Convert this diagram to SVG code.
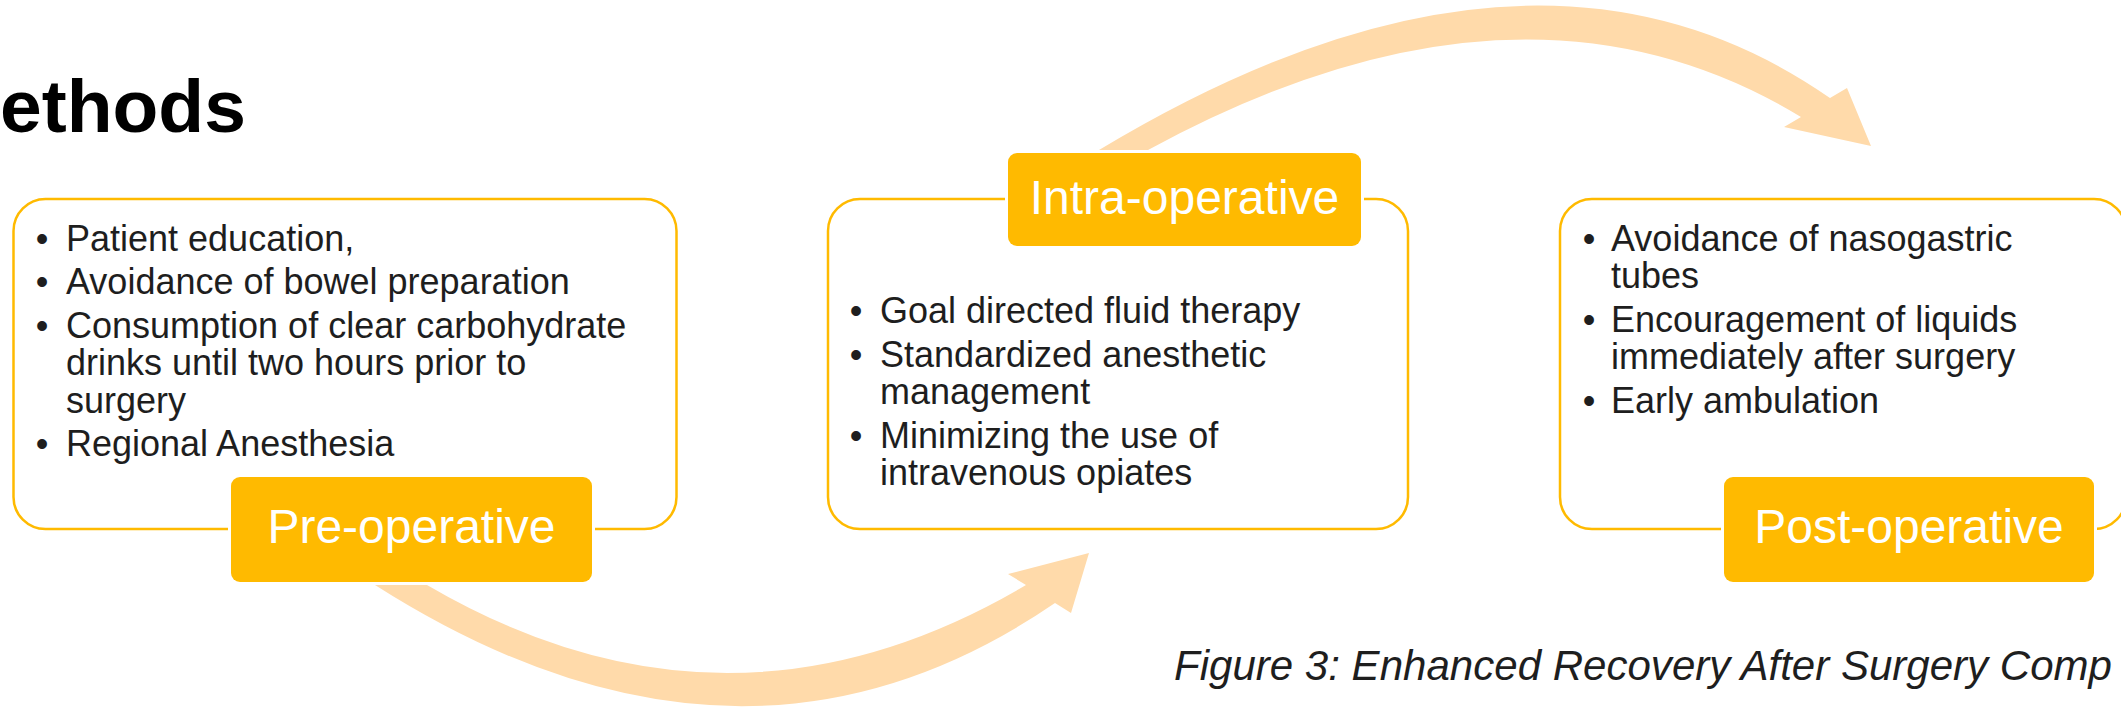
<svg xmlns="http://www.w3.org/2000/svg" width="2121" height="707" viewBox="0 0 2121 707">
  <style>
    .panel { fill: #ffffff; stroke: #FFBA00; stroke-width: 2.5; }
    .tag { fill: #FFBA00; stroke: #ffffff; stroke-width: 6; paint-order: stroke; }
    .tagtext { font-family: "Liberation Sans", Arial, sans-serif; font-size: 48px; fill: #ffffff; text-anchor: middle; }
    .item { font-family: "Liberation Sans", Arial, sans-serif; font-size: 36px; fill: #1e1e1e; }
    .dot { font-family: "Liberation Sans", Arial, sans-serif; font-size: 36px; fill: #1e1e1e; text-anchor: middle; }
    .flow { fill: #FFDAAA; stroke: none; }
  </style>

  <rect width="2121" height="707" fill="#ffffff"/>

  <!-- heading -->
  <text x="0" y="132" font-family="Liberation Sans, Arial, sans-serif" font-size="75" font-weight="bold" fill="#000000">ethods</text>

  <!-- curved flow arrows between the phases -->
  <g id="connectors">
    <path class="flow" d="M 375 585 Q 741 818 1055 603 L 1071 613 L 1089 553 L 1008 574 L 1026 585 Q 728 761 427 585 Z"/>
    <path class="flow" d="M 1099 150 Q 1531 -110 1830 98 L 1847 88 L 1871 146 L 1784 127 L 1801 117 Q 1521 -53 1148 150 Z"/>
  </g>

  <!-- phase 1 -->
  <g id="pre-operative">
    <rect class="panel" x="13.5" y="199" width="663" height="330" rx="32"/>
    <text class="dot" x="42" y="250.5">•</text>
    <text class="item" x="66" y="250.5">Patient education,</text>
    <text class="dot" x="42" y="294">•</text>
    <text class="item" x="66" y="294">Avoidance of bowel preparation</text>
    <text class="dot" x="42" y="337.5">•</text>
    <text class="item" x="66" y="337.5">Consumption of clear carbohydrate</text>
    <text class="item" x="66" y="375">drinks until two hours prior to</text>
    <text class="item" x="66" y="412.5">surgery</text>
    <text class="dot" x="42" y="456">•</text>
    <text class="item" x="66" y="456">Regional Anesthesia</text>
    <rect class="tag" x="231" y="477" width="361" height="105" rx="9"/>
    <text class="tagtext" x="411.5" y="543">Pre-operative</text>
  </g>

  <!-- phase 2 -->
  <g id="intra-operative">
    <rect class="panel" x="828" y="199" width="580" height="330" rx="32"/>
    <text class="dot" x="856" y="323">•</text>
    <text class="item" x="880" y="323">Goal directed fluid therapy</text>
    <text class="dot" x="856" y="366.5">•</text>
    <text class="item" x="880" y="366.5">Standardized anesthetic</text>
    <text class="item" x="880" y="404">management</text>
    <text class="dot" x="856" y="447.5">•</text>
    <text class="item" x="880" y="447.5">Minimizing the use of</text>
    <text class="item" x="880" y="485">intravenous opiates</text>
    <rect class="tag" x="1008" y="153" width="353" height="93" rx="9"/>
    <text class="tagtext" x="1184.5" y="214">Intra-operative</text>
  </g>

  <!-- phase 3 -->
  <g id="post-operative">
    <rect class="panel" x="1560" y="199" width="566" height="330" rx="32"/>
    <text class="dot" x="1589" y="250.5">•</text>
    <text class="item" x="1611" y="250.5">Avoidance of nasogastric</text>
    <text class="item" x="1611" y="288">tubes</text>
    <text class="dot" x="1589" y="331.5">•</text>
    <text class="item" x="1611" y="331.5">Encouragement of liquids</text>
    <text class="item" x="1611" y="369">immediately after surgery</text>
    <text class="dot" x="1589" y="412.5">•</text>
    <text class="item" x="1611" y="412.5">Early ambulation</text>
    <rect class="tag" x="1724" y="477" width="370" height="105" rx="9"/>
    <text class="tagtext" x="1909" y="543">Post-operative</text>
  </g>

  <!-- caption -->
  <text x="1174" y="680" font-family="Liberation Sans, Arial, sans-serif" font-size="42" font-style="italic" fill="#1e1e1e" textLength="938" lengthAdjust="spacingAndGlyphs">Figure 3: Enhanced Recovery After Surgery Comp</text>
</svg>
